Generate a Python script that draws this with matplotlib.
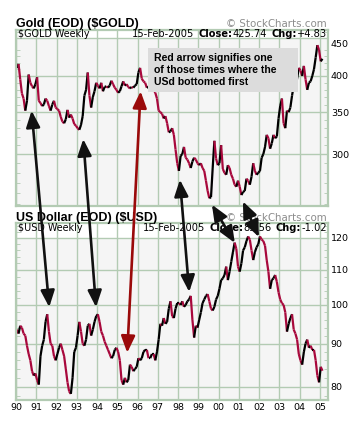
import matplotlib
matplotlib.use("Agg")
import matplotlib.pyplot as plt
import numpy as np
from matplotlib.collections import LineCollection
from matplotlib.patches import ConnectionPatch, Rectangle
from matplotlib.ticker import NullFormatter

START_YEAR = 1990

# monthly closes, Jan 1990 .. Feb 2005
gold_close = [
    412, 418, 395, 375, 368, 352, 365, 402, 390, 385, 382, 388,
    398, 365, 362, 358, 360, 368, 365, 358, 352, 360, 365, 356,
    354, 352, 344, 338, 336, 341, 353, 343, 347, 342, 335, 333,
    330, 328, 334, 345, 372, 380, 405, 372, 356, 370, 378, 390,
    386, 382, 390, 378, 384, 385, 383, 386, 393, 388, 383, 380,
    376, 378, 385, 392, 386, 388, 384, 382, 384, 383, 386, 388,
    405, 412, 396, 392, 390, 383, 384, 387, 380, 380, 376, 368,
    352, 350, 348, 342, 345, 336, 325, 326, 330, 322, 305, 290,
    282, 298, 300, 308, 296, 294, 290, 285, 292, 296, 294, 290,
    288, 290, 285, 282, 272, 262, 255, 256, 285, 315, 295, 288,
    290, 310, 284, 280, 278, 288, 285, 278, 274, 268, 266, 272,
    266, 258, 261, 262, 274, 272, 268, 276, 290, 282, 278, 280,
    282, 296, 300, 308, 322, 318, 306, 312, 322, 318, 320, 342,
    358, 368, 336, 330, 352, 350, 356, 372, 386, 384, 396, 412,
    408, 400, 415, 395, 380, 390, 392, 400, 410, 428, 448, 440,
    422, 426,
]
usd_close = [
    93.5, 92.5, 94.5, 94.0, 92.5, 92.0, 89.5, 87.5, 86.0, 83.5, 82.5, 83.0,
    81.5, 80.5, 87.0, 89.5, 91.0, 95.5, 97.5, 93.0, 90.0, 89.5, 87.0, 86.0,
    87.5, 89.0, 90.0, 88.5, 87.0, 84.0, 81.0, 79.0, 78.5, 82.0, 88.0, 89.0,
    92.0, 95.5, 93.0, 90.0, 89.5, 91.0, 94.5, 95.0, 92.0, 93.5, 95.5, 97.0,
    97.5, 95.5, 93.0, 92.0, 90.5, 89.5, 88.5, 87.5, 86.5, 87.0, 88.5, 89.0,
    88.0, 86.0, 81.5, 80.5, 82.0, 81.0, 81.5, 85.0, 84.5, 83.5, 84.0, 84.5,
    86.5, 86.0, 86.5, 88.0, 88.5, 88.5, 86.5, 86.5, 87.5, 87.5, 86.0, 88.0,
    91.0, 95.0, 94.5, 96.5, 95.0, 95.5, 99.0, 101.0, 97.0, 96.5, 99.0, 100.5,
    100.5, 100.0, 101.0, 99.5, 100.0, 101.0, 101.5, 102.5, 96.0, 91.5, 94.5, 94.0,
    96.0, 98.0, 100.5, 101.5, 102.5, 103.0, 101.0, 99.0, 98.5, 99.5, 101.5, 102.5,
    104.5, 107.0, 107.5, 108.5, 111.0, 107.0, 109.5, 112.5, 115.5, 118.5, 116.5, 111.0,
    109.5, 112.0, 116.0, 117.0, 119.0, 120.5, 119.5, 116.0, 113.0, 115.5, 117.0, 118.0,
    120.5, 119.5, 119.0, 117.5, 113.0, 109.5, 104.5, 107.0, 107.5, 108.5, 106.5, 103.5,
    101.5, 100.5, 100.0, 98.0, 93.0, 95.0, 96.5, 97.5, 93.5, 92.5, 91.0, 87.5,
    86.0, 85.0, 88.0, 90.0, 91.0, 89.0, 89.5, 88.5, 88.5, 86.0, 82.5, 81.0,
    84.5, 83.6,
]
year_ticks = list(range(1990, 2006))
year_labels = ["90", "91", "92", "93", "94", "95", "96", "97", "98", "99",
               "00", "01", "02", "03", "04", "05"]
gold_ticks = [300, 350, 400, 450]
usd_ticks = [80, 90, 100, 110, 120]

# (gold year, gold price) <-> (usd year, usd value)
arrows = [
    (1990.77, 352, 1991.64, 99.4, "#111111"),
    (1993.32, 317, 1993.95, 99.4, "#111111"),
    (1996.15, 378, 1995.49, 87.8, "#9a0a0a"),
    (1998.09, 273, 1998.55, 103.6, "#111111"),
    (1999.67, 249, 2000.80, 118.4, "#111111"),
    (2001.20, 252, 2001.99, 120.3, "#111111"),
]

GRID = "#b3cbb3"
UP = "#000000"
DOWN = "#a8083c"
FONT = "DejaVu Sans"


def draw_series(ax, values):
    dates = START_YEAR + (np.arange(len(values)) + 0.5) / 12
    pts = np.column_stack([dates, values])
    segs = np.stack([pts[:-1], pts[1:]], axis=1)
    colors = [UP if b >= a else DOWN for a, b in zip(values[:-1], values[1:])]
    ax.add_collection(LineCollection(segs, colors=colors, linewidths=1.6, zorder=2))


def style_panel(ax, ylim, ticks, minor, grid_vals):
    ax.set_facecolor("#f5f5f5")
    ax.set_yscale("log")
    ax.set_xlim(1990, 2005.4)
    ax.set_ylim(*ylim)
    ax.set_yticks(ticks, labels=[str(t) for t in ticks])
    ax.set_yticks(minor, minor=True)
    ax.yaxis.set_minor_formatter(NullFormatter())
    ax.set_xticks(year_ticks)
    for x in year_ticks:
        ax.axvline(x, color=GRID, lw=1, zorder=1)
    for y in grid_vals:
        ax.axhline(y, color=GRID, lw=1, zorder=1)
    ax.yaxis.tick_right()
    ax.tick_params(axis="y", which="major", length=0, pad=2, labelsize=6.8)
    ax.tick_params(axis="y", which="minor", direction="in", length=3, color=GRID,
                   left=True, right=True)
    ax.tick_params(axis="x", length=0, pad=2, labelsize=6.8)
    for sp in ax.spines.values():
        sp.set_color(GRID)
        sp.set_linewidth(1.6)


def header(ax, title, name, date, close, chg, header_floor):
    ax.axhspan(header_floor, ax.get_ylim()[1], color="white", zorder=0.5)
    ax.text(0.0, 1.012, title, transform=ax.transAxes, fontsize=9,
            fontweight="bold", family="Liberation Sans", va="baseline", ha="left")
    ax.text(0.996, 1.012, "\u00a9 StockCharts.com", transform=ax.transAxes,
            fontsize=7.4, color="#8c8c8c", family=FONT, va="baseline", ha="right")
    ax.text(0.006, 0.972, name, transform=ax.transAxes, fontsize=6.9,
            family=FONT, va="center", ha="left", zorder=4)
    t = ax.text(0.996, 0.972, chg, transform=ax.transAxes, fontsize=7.1,
                family=FONT, va="center", ha="right", zorder=4)
    for piece, bold, gap in [("Chg:", True, 0), (close, False, -3),
                             ("Close:", True, 0), (date, False, -3)]:
        t = ax.annotate(piece, xy=(0, 0.5), xycoords=t, xytext=(gap, 0),
                        textcoords="offset points", va="center", ha="right",
                        fontsize=7.1, family=FONT, zorder=4,
                        fontweight="bold" if bold else "normal")


fig = plt.figure(figsize=(3.6, 4.32), dpi=100)
ax_gold = fig.add_axes([16 / 360, 1 - 206 / 432, 312 / 360, 176.5 / 432])
ax_usd = fig.add_axes([16 / 360, 1 - 400 / 432, 312 / 360, 177 / 432])

style_panel(ax_gold, (247.8, 474.5), gold_ticks, list(range(250, 475, 10)),
            [300, 350, 400, 460])
style_panel(ax_usd, (77.2, 125.0), usd_ticks, list(range(78, 126, 2)), usd_ticks)
ax_gold.tick_params(axis="x", labelbottom=False)
ax_usd.set_xticklabels(year_labels)

draw_series(ax_gold, gold_close)
draw_series(ax_usd, usd_close)

header(ax_gold, "Gold (EOD) (\\$GOLD)", "\\$GOLD Weekly", "15-Feb-2005",
       "425.74", "+4.83", 460)
header(ax_usd, "US Dollar (EOD) (\\$USD)", "\\$USD Weekly", "15-Feb-2005",
       "83.56", "-1.02", 120)

ax_gold.add_patch(Rectangle((0.423, 0.646), 0.481, 0.249, transform=ax_gold.transAxes,
                            facecolor="#dcdcdc", edgecolor="none", zorder=3))
ax_gold.text(0.442, 0.77, "Red arrow signifies one\nof those times where the\nUSd bottomed first",
             transform=ax_gold.transAxes, fontsize=7.6, fontweight="bold",
             family="Liberation Sans", va="center", ha="left", linespacing=1.2, zorder=4)

for gy, gp, uy, up, color in arrows:
    con = ConnectionPatch(xyA=(gy, gp), coordsA="data", axesA=ax_gold,
                          xyB=(uy, up), coordsB="data", axesB=ax_usd,
                          arrowstyle="<|-|>,head_length=1.0,head_width=0.42",
                          mutation_scale=10, lw=1.9, color=color,
                          shrinkA=0, shrinkB=0, zorder=5)
    fig.add_artist(con)

fig.savefig("out.png", dpi=100)
